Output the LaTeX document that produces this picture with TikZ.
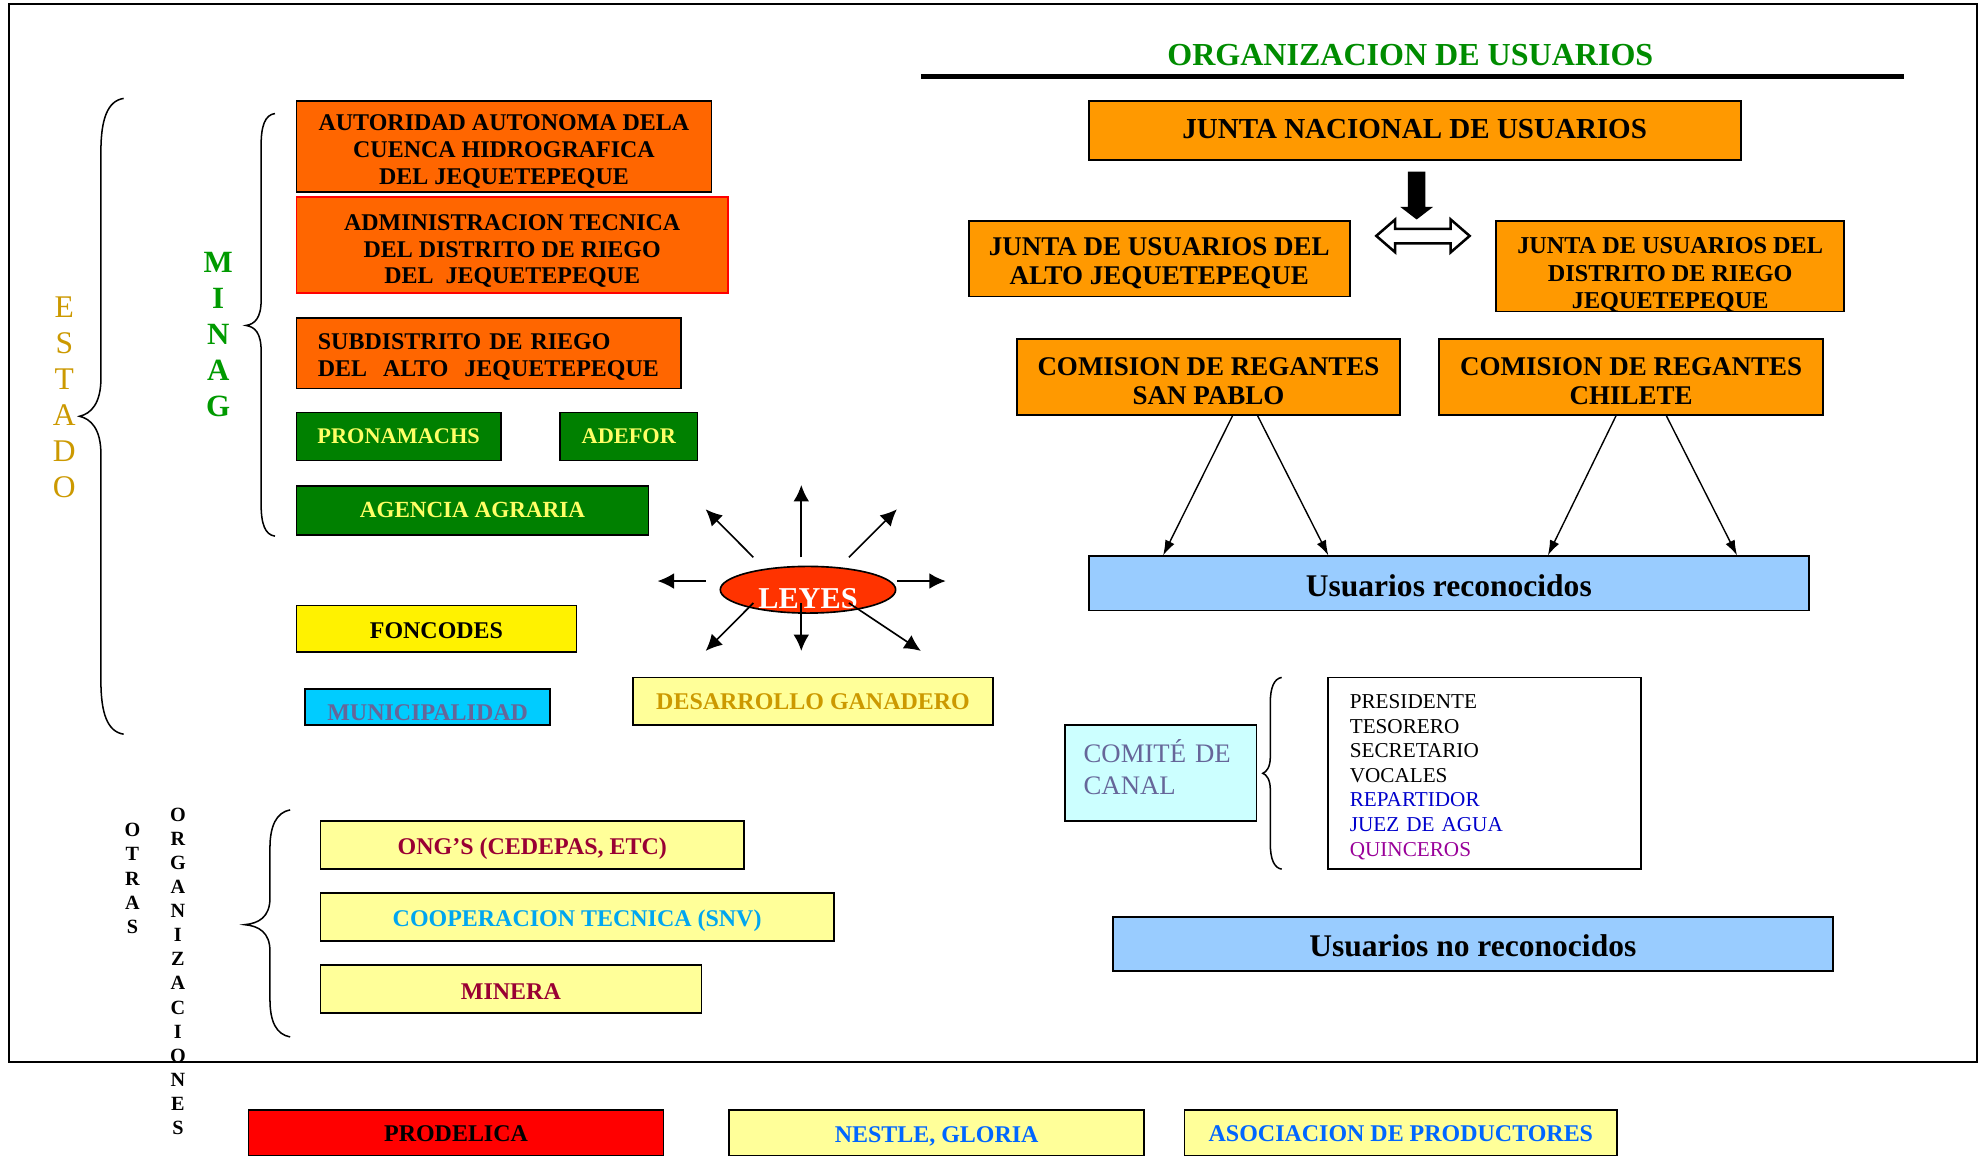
\documentclass[tikz,border=0pt]{standalone}
\usepackage{fontspec}
\setmainfont{Liberation Serif}
\usetikzlibrary{shapes.geometric,arrows.meta,calc}
\definecolor{orL}{HTML}{FF6600}
\definecolor{orR}{HTML}{FF9900}
\definecolor{dgreen}{HTML}{008000}
\definecolor{ytext}{HTML}{FFFF66}
\definecolor{lyellow}{HTML}{FFFF99}
\definecolor{lblue}{HTML}{99CCFF}
\definecolor{cyanb}{HTML}{00CCFF}
\definecolor{pcyan}{HTML}{CCFFFF}
\definecolor{greyp}{HTML}{666699}
\definecolor{gold}{HTML}{CC9900}
\definecolor{dred}{HTML}{990033}
\definecolor{skyb}{HTML}{00A6F0}
\definecolor{nblue}{HTML}{0066FF}
\definecolor{leyred}{HTML}{FF3300}
\definecolor{tgreen}{HTML}{008C00}
\definecolor{mgreen}{HTML}{009A00}
\definecolor{rblue}{HTML}{0000CC}
\definecolor{purp}{HTML}{990099}
\newcommand\fsz[2]{\fontsize{#1}{#2}\selectfont}
\begin{document}
\begin{tikzpicture}[x=1pt,y=-1pt,
  box/.style={draw=black, line width=1.4pt, inner sep=0pt},
  txt/.style={inner sep=0pt, align=center},
  ltxt/.style={txt, font=\fsz{19}{21.3}\bfseries},
  arr/.style={line width=1.1pt, -{Latex[length=12pt,width=8pt]}},
  rarr/.style={line width=1.3pt, -{Latex[length=13pt,width=12.5pt]}},
  brace/.style={line width=1.2pt},
  vert/.style={inner sep=0pt, align=center}]
\useasboundingbox (0,0) rectangle (1568,920);
\fill[white] (0,0) rectangle (1568,920);
% outer frame
\draw[line width=1.5pt] (7,3) rectangle (1567,842);

% ---------------- right side: organizacion de usuarios
\node[txt, text=tgreen, font=\fsz{25.4}{28}\bfseries] (title) at (1118,44) {ORGANIZACION DE USUARIOS};
\draw[line width=4pt] (730,61) -- (1509,61);

\node[box, fill=orR, minimum width=517pt, minimum height=47pt] (jn) at (1121.5,103.5) {};
\node[txt, font=\fsz{23}{26}\bfseries] at ([yshift=1pt]jn.center) {JUNTA NACIONAL DE USUARIOS};
\node[box, fill=orR, minimum width=302pt, minimum height=60pt] (ja) at (919,205) {};
\node[txt, font=\fsz{21.4}{23}\bfseries] at ([yshift=-4pt]ja.center) {JUNTA DE USUARIOS DEL\\ALTO JEQUETEPEQUE};
\node[box, fill=orR, minimum width=276pt, minimum height=72pt] (jd) at (1324,211) {};
\node[txt, font=\fsz{19.2}{22}\bfseries] at ([yshift=-7pt]jd.center) {JUNTA DE USUARIOS DEL\\DISTRITO DE RIEGO\\JEQUETEPEQUE};
\node[box, fill=orR, minimum width=304pt, minimum height=60pt] (sp) at (958,299) {};
\node[txt, font=\fsz{21.4}{23}\bfseries] at ([yshift=-3pt]sp.center) {COMISION DE REGANTES\\SAN PABLO};
\node[box, fill=orR, minimum width=304pt, minimum height=60pt] (ch) at (1293,299) {};
\node[txt, font=\fsz{21.4}{23}\bfseries] at ([yshift=-3pt]ch.center) {COMISION DE REGANTES\\CHILETE};
\node[box, fill=lblue, minimum width=571pt, minimum height=43pt] (ur) at (1148.5,462.5) {};
\node[txt, font=\fsz{25}{28}\bfseries] at ([yshift=-2pt]ur.center) {Usuarios reconocidos};
\node[box, fill=lblue, minimum width=571pt, minimum height=43pt] (unr) at (1167.5,748.5) {};
\node[txt, font=\fsz{25}{28}\bfseries] at ([yshift=-1.5pt]unr.center) {Usuarios no reconocidos};

% double hollow arrow and thick down arrow
\draw[line width=2pt, line join=miter, fill=white] (1091,187) -- (1106,174) -- (1106,181.5) -- (1150,181.5) -- (1150,174) -- (1165,187) -- (1150,200) -- (1150,193) -- (1106,193) -- (1106,200) -- cycle;
\fill (1116,136) -- (1130,136) -- (1130,164) -- (1136,164) -- (1123,174) -- (1110,164) -- (1116,164) -- cycle;

% arrows comisiones -> usuarios reconocidos
\draw[arr] ([xshift=19pt]sp.south) -- ([xshift=-226.5pt]ur.north);
\draw[arr] ([xshift=39pt]sp.south) -- ([xshift=-95.5pt]ur.north);
\draw[arr] ([xshift=-12pt]ch.south) -- ([xshift=78.5pt]ur.north);
\draw[arr] ([xshift=28pt]ch.south) -- ([xshift=228.5pt]ur.north);

% comite de canal
\node[box, fill=pcyan, minimum width=152pt, minimum height=76pt] (cc) at (920,613) {};
\node[txt, text width=122pt, align=left, text=greyp, font=\fsz{21.2}{25}] at ([yshift=5pt]cc.center) {COMITÉ DE\\CANAL};
\draw[brace] (1016,537) .. controls (1010,538) and (1007,545) .. (1007,557) -- (1007,600) .. controls (1007,608) and (1004,612) .. (1001,613) .. controls (1004,614) and (1007,618) .. (1007,626) -- (1007,669) .. controls (1007,681) and (1010,688) .. (1016,689);
\node[box, fill=white, minimum width=248pt, minimum height=152pt] (mem) at (1177,613) {};
\node[txt, text width=214pt, align=left, font=\fsz{16.8}{19.5}] at ([yshift=-3pt]mem.center) {PRESIDENTE\\TESORERO\\SECRETARIO\\VOCALES\\\textcolor{rblue}{REPARTIDOR}\\\textcolor{rblue}{JUEZ DE AGUA}\\\textcolor{purp}{QUINCEROS}};

% ---------------- left side: estado
\node[vert, text=gold, font=\fsz{25}{28.5}] (estado) at (51,315) {E\\S\\T\\A\\D\\O};
\draw[brace] (98,78) .. controls (85,80) and (80,95) .. (80,120) -- (80,300) .. controls (80,320) and (72,328) .. (63,330) .. controls (72,332) and (80,340) .. (80,360) -- (80,540) .. controls (80,565) and (85,580) .. (98,582);
\node[vert, text=mgreen, font=\fsz{24.5}{28.5}\bfseries] (minag) at (173,265) {M\\I\\N\\A\\G};
\draw[brace] (218,90) .. controls (210,91) and (207,100) .. (207,115) -- (207,238) .. controls (207,252) and (202,257) .. (195,258) .. controls (202,259) and (207,264) .. (207,278) -- (207,400) .. controls (207,415) and (210,424) .. (218,425);

\node[box, fill=orL, minimum width=329pt, minimum height=72pt] (aut) at (399.5,116) {};
\node[ltxt] at ([yshift=-4pt]aut.center) {AUTORIDAD AUTONOMA DELA\\CUENCA HIDROGRAFICA\\DEL JEQUETEPEQUE};
\node[box, draw=red, fill=orL, minimum width=342pt, minimum height=76pt] (adm) at (406,194) {};
\node[ltxt] at ([yshift=-5pt]adm.center) {ADMINISTRACION TECNICA\\DEL DISTRITO DE RIEGO\\DEL\ \ JEQUETEPEQUE};
\node[box, fill=orL, minimum width=305pt, minimum height=56pt] (sub) at (387.5,280) {};
\node[ltxt, text width=271pt, align=left] at ([yshift=-3pt]sub.center) {SUBDISTRITO DE RIEGO\\DEL\ \ ALTO\ \ JEQUETEPEQUE};
\node[box, fill=dgreen, minimum width=162pt, minimum height=38pt] (pro) at (316,346) {};
\node[txt, text=ytext, font=\fsz{17.7}{20}\bfseries] at (pro.center) {PRONAMACHS};
\node[box, fill=dgreen, minimum width=109pt, minimum height=38pt] (ade) at (498.5,346) {};
\node[txt, text=ytext, font=\fsz{17.7}{20}\bfseries] at (ade.center) {ADEFOR};
\node[box, fill=dgreen, minimum width=279pt, minimum height=39pt] (age) at (374.5,404.5) {};
\node[txt, text=ytext, font=\fsz{18.3}{20}\bfseries] at (age.center) {AGENCIA AGRARIA};
\node[box, fill=yellow, minimum width=222pt, minimum height=37pt] (fon) at (346,498.5) {};
\node[ltxt] at ([yshift=-1.5pt]fon.center) {FONCODES};
\node[box, fill=cyanb, minimum width=194pt, minimum height=29pt] (mun) at (339,560.5) {};
\node[ltxt, text=greyp] at ([yshift=-4.5pt]mun.center) {MUNICIPALIDAD};
\node[box, fill=lyellow, minimum width=285pt, minimum height=38pt] (des) at (644.5,556) {};
\node[ltxt, text=gold] at (des.center) {DESARROLLO GANADERO};

% leyes
\node[ellipse, draw=black, line width=1.3pt, fill=leyred, minimum width=139pt, minimum height=37pt, inner sep=0pt] (leyes) at (640.5,467.5) {};
\node[txt, text=white, font=\fsz{24}{26}\bfseries] at ([yshift=-7pt]leyes.center) {LEYES};
\coordinate (lul0) at (597.2,441.8); \coordinate (lul) at (559.4,403.7);
\coordinate (lu0) at (635.2,441.8);  \coordinate (lu) at (635.2,384.5);
\coordinate (lur0) at (672.9,441.8); \coordinate (lur) at (711,403.7);
\coordinate (ll0) at (559.4,460.6);  \coordinate (ll) at (521.3,460.6);
\coordinate (lr0) at (711.4,460.6);  \coordinate (lr) at (749.7,460.6);
\coordinate (ldl0) at (597.2,478);   \coordinate (ldl) at (559.4,516);
\coordinate (ld0) at (635.2,478);    \coordinate (ld) at (635.2,516);
\coordinate (ldr0) at (672.9,478);   \coordinate (ldr) at (730,516);
\foreach \a/\b in {lul0/lul,lu0/lu,lur0/lur,ll0/ll,lr0/lr,ldl0/ldl,ld0/ld,ldr0/ldr}
  \draw[rarr] (\a) -- (\b);

% ---------------- otras organizaciones
\node[vert, font=\fsz{16}{19.25}\bfseries] (otras) at (105,696.5) {O\\T\\R\\A\\S};
\node[vert, font=\fsz{16}{19.08}\bfseries] (orgs) at (141,770) {O\\R\\G\\A\\N\\I\\Z\\A\\C\\I\\O\\N\\E\\S};
\draw[brace] (230,642) .. controls (219,644) and (214,655) .. (214,672) -- (214,712) .. controls (214,727) and (205,732) .. (194,733) .. controls (205,734) and (214,739) .. (214,754) -- (214,792) .. controls (214,810) and (219,820) .. (230,822);
\node[box, fill=lyellow, minimum width=336pt, minimum height=38pt] (ong) at (422,670) {};
\node[ltxt, text=dred] at ([yshift=-3pt]ong.center) {ONG’S (CEDEPAS, ETC)};
\node[box, fill=lyellow, minimum width=407pt, minimum height=38pt] (coop) at (457.5,727) {};
\node[ltxt, text=skyb] at ([yshift=-3pt]coop.center) {COOPERACION TECNICA (SNV)};
\node[box, fill=lyellow, minimum width=302pt, minimum height=38pt] (min) at (405,784) {};
\node[ltxt, text=dred] at ([yshift=-2pt]min.center) {MINERA};

% ---------------- bottom row
\node[box, fill=red, minimum width=329pt, minimum height=36pt] (prod) at (361.5,898) {};
\node[ltxt] at ([yshift=-1pt]prod.center) {PRODELICA};
\node[box, fill=lyellow, minimum width=329pt, minimum height=36pt] (nes) at (742.5,898) {};
\node[ltxt, text=nblue] at ([yshift=-2.5pt]nes.center) {NESTLE, GLORIA};
\node[box, fill=lyellow, minimum width=343pt, minimum height=36pt] (aso) at (1110.5,898) {};
\node[ltxt, text=nblue] at ([yshift=-1pt]aso.center) {ASOCIACION DE PRODUCTORES};
\end{tikzpicture}
\end{document}
